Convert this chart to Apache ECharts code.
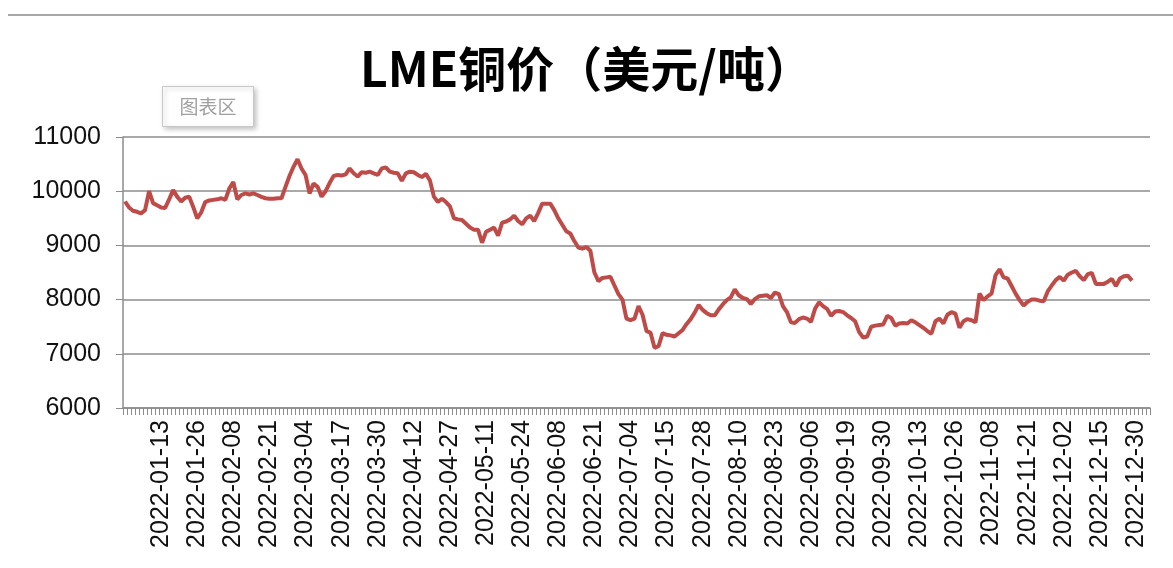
<!DOCTYPE html>
<html>
<head>
<meta charset="utf-8">
<script src="https://cdn.jsdelivr.net/npm/echarts@6/dist/echarts.min.js"></script>
<style>
html,body{margin:0;padding:0;background:#fff;}
#chart{width:1173px;height:568px;}
</style>
</head>
<body>
<div id="chart"></div>
<script>
// ---- data ----
const titleText = 'LME铜价（美元/吨）';
const leadDates = ['2021-12-30', '2021-12-31'];
const firstDay = '2022-01-03';
const lastDay = '2022-12-30';
const holidays = ['2022-01-03','2022-04-15','2022-04-18','2022-05-02','2022-06-02','2022-06-03','2022-08-29','2022-12-26','2022-12-27'];
const tailPad = ['', '', ''];
const tickLabels = ['2022-01-13','2022-01-26','2022-02-08','2022-02-21','2022-03-04','2022-03-17','2022-03-30','2022-04-12','2022-04-27','2022-05-11','2022-05-24','2022-06-08','2022-06-21','2022-07-04','2022-07-15','2022-07-28','2022-08-10','2022-08-23','2022-09-06','2022-09-19','2022-09-30','2022-10-13','2022-10-26','2022-11-08','2022-11-21','2022-12-02','2022-12-15','2022-12-30'];
const yTicks = [6000, 7000, 8000, 9000, 10000, 11000];
const copperPrice = [
 9810,9700,9640,9620,9590,9650,10000,9780,9740,9700,
 9690,9850,10020,9900,9810,9880,9900,9710,9500,9610,
 9800,9830,9840,9850,9870,9840,10050,10170,9850,9930,
 9960,9940,9960,9930,9895,9870,9860,9860,9870,9870,
 10080,10280,10450,10590,10420,10300,9960,10140,10080,9900,
 10000,10150,10280,10300,10290,10310,10420,10330,10270,10350,
 10340,10360,10330,10300,10420,10440,10360,10340,10330,10190,
 10330,10360,10350,10300,10260,10320,10200,9900,9800,9860,
 9800,9720,9500,9480,9470,9400,9330,9290,9290,9050,
 9250,9290,9330,9180,9420,9440,9480,9550,9450,9390,
 9500,9550,9450,9600,9770,9770,9770,9650,9500,9380,
 9260,9220,9080,8960,8940,8970,8900,8500,8340,8400,
 8410,8420,8260,8100,8000,7650,7620,7650,7880,7720,
 7420,7390,7110,7140,7380,7350,7340,7320,7380,7440,
 7550,7640,7760,7900,7810,7750,7710,7710,7820,7910,
 7990,8040,8190,8080,8030,8010,7920,8010,8060,8070,
 8080,8030,8130,8100,7880,7770,7580,7570,7640,7670,
 7650,7590,7830,7950,7880,7830,7700,7780,7790,7770,
 7710,7660,7600,7400,7300,7320,7500,7520,7530,7540,
 7700,7660,7520,7560,7570,7560,7620,7580,7530,7480,
 7420,7370,7600,7650,7560,7720,7770,7740,7480,7600,
 7640,7620,7580,8110,7990,8060,8110,8450,8560,8410,
 8390,8250,8110,7990,7890,7960,8000,8000,7980,7970,
 8150,8260,8360,8420,8350,8460,8500,8530,8430,8360,
 8470,8490,8290,8290,8290,8330,8380,8250,8390,8430,
 8440,8350
];

// build category list (trading days)
function buildDates() {
  const out = leadDates.slice();
  const d = new Date(firstDay + 'T00:00:00Z');
  const end = new Date(lastDay + 'T00:00:00Z');
  while (d <= end) {
    const wd = d.getUTCDay();
    const s = d.toISOString().slice(0, 10);
    if (wd !== 0 && wd !== 6 && holidays.indexOf(s) < 0) out.push(s);
    d.setUTCDate(d.getUTCDate() + 1);
  }
  return out.concat(tailPad);
}
const categories = buildDates();

const chart = echarts.init(document.getElementById('chart'));
const grayLine = '#8c8c8c';
chart.setOption({
  animation: false,
  backgroundColor: '#ffffff',
  title: {
    text: titleText,
    left: 'center',
    top: 40,
    textStyle: {
      fontFamily: 'Noto Sans CJK SC',
      fontWeight: 'bold',
      fontSize: 48,
      color: '#000'
    }
  },
  grid: { left: 123, right: 23, top: 137, bottom: 160, containLabel: false },
  xAxis: {
    type: 'category',
    data: categories,
    boundaryGap: true,
    axisLine: { lineStyle: { color: grayLine, width: 1.5 } },
    axisTick: { show: true, interval: 0, length: 7, inside: false, lineStyle: { color: grayLine, width: 1 } },
    axisLabel: {
      interval: function (idx, val) { return tickLabels.indexOf(val) >= 0; },
      rotate: 90,
      margin: 12,
      fontFamily: 'Liberation Sans',
      fontSize: 25,
      color: '#111'
    },
    splitLine: { show: false }
  },
  yAxis: {
    type: 'value',
    min: yTicks[0],
    max: yTicks[yTicks.length - 1],
    interval: 1000,
    axisLine: { show: true, lineStyle: { color: grayLine, width: 1.5 } },
    axisTick: { show: true, length: 7, lineStyle: { color: grayLine, width: 1 } },
    axisLabel: {
      margin: 22,
      fontFamily: 'Liberation Sans',
      fontSize: 25,
      color: '#111',
      formatter: function (v) { return String(v); }
    },
    splitLine: { show: true, lineStyle: { color: grayLine, width: 1.5 } }
  },
  series: [{
    type: 'line',
    data: copperPrice,
    showSymbol: false,
    symbol: 'none',
    lineStyle: { color: '#BE4B48', width: 4 },
    itemStyle: { color: '#BE4B48' },
    connectNulls: false,
    z: 5
  }],
  graphic: [
    {
      type: 'line',
      shape: { x1: 8, y1: 15, x2: 1173, y2: 15 },
      style: { stroke: '#8a8a8a', lineWidth: 1.5 },
      z: 10
    },
    {
      type: 'group',
      left: 162,
      top: 86,
      z: 20,
      children: [
        {
          type: 'rect',
          shape: { x: 0, y: 0, width: 91, height: 40 },
          style: {
            fill: '#ffffff',
            stroke: '#c8c8c8',
            lineWidth: 1,
            shadowBlur: 5,
            shadowOffsetX: 2,
            shadowOffsetY: 2,
            shadowColor: 'rgba(0,0,0,0.25)'
          }
        },
        {
          type: 'text',
          style: {
            text: '图表区',
            x: 45.5,
            y: 20,
            align: 'center',
            verticalAlign: 'middle',
            font: '19px "Noto Sans CJK SC"',
            fill: '#a0a0a0'
          }
        }
      ]
    }
  ]
});
</script>
</body>
</html>
